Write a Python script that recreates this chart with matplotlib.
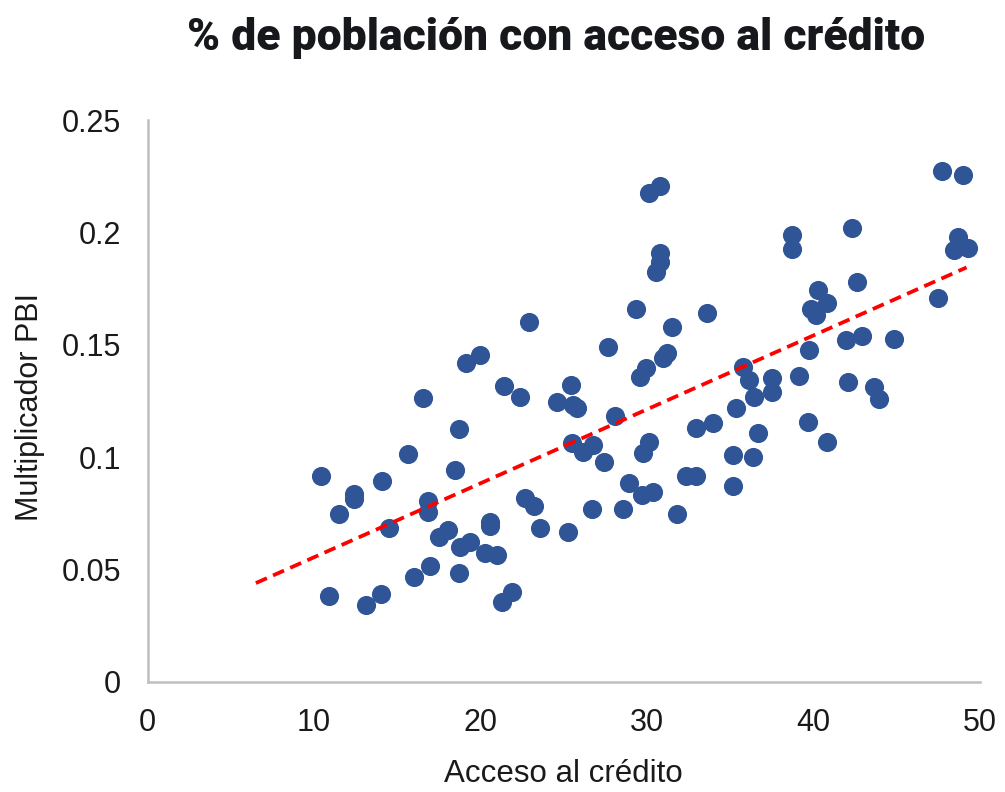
import numpy as np
import matplotlib
matplotlib.use("Agg")
import matplotlib.pyplot as plt

acceso = [
    10.41, 10.89, 11.49, 12.39, 12.39, 13.12, 14.02, 14.08, 14.50, 15.64,
    16.00, 16.55, 16.85, 16.85, 16.97, 17.51, 18.05, 18.47, 18.71, 18.71,
    18.77, 19.13, 19.37, 19.98, 20.28, 20.58, 20.58, 21.00, 21.30, 21.42,
    21.90, 22.38, 22.68, 22.92, 23.23, 23.59, 24.61, 25.27, 25.45, 25.57,
    25.81, 25.51, 26.17, 26.77, 26.71, 27.44, 27.68, 28.10, 28.58, 28.94,
    29.36, 29.60, 29.72, 29.78, 29.96, 30.14, 30.14, 30.38, 30.51, 30.75,
    30.75, 30.81, 30.99, 31.23, 31.53, 31.83, 32.37, 32.97, 32.97, 33.63,
    33.94, 35.14, 35.14, 35.32, 35.74, 36.10, 36.40, 36.34, 36.64, 37.48,
    37.48, 38.69, 38.69, 39.11, 39.65, 39.71, 39.83, 40.25, 40.13, 40.79,
    40.79, 41.94, 42.06, 42.30, 42.60, 42.90, 43.62, 43.92, 44.83, 47.47,
    47.71, 48.98, 48.68, 48.44, 49.28,
]
multiplicador = [
    0.0916, 0.0383, 0.0747, 0.0836, 0.0814, 0.0343, 0.0391, 0.0894, 0.0685, 0.1014,
    0.0467, 0.1263, 0.0805, 0.0756, 0.0516, 0.0645, 0.0676, 0.0943, 0.1125, 0.0485,
    0.0601, 0.1419, 0.0623, 0.1455, 0.0574, 0.0712, 0.0694, 0.0565, 0.0356, 0.1317,
    0.0400, 0.1268, 0.0819, 0.1601, 0.0783, 0.0685, 0.1246, 0.0667, 0.1321, 0.1232,
    0.1219, 0.1063, 0.1023, 0.1054, 0.0770, 0.0979, 0.1490, 0.1183, 0.0770, 0.0885,
    0.1659, 0.1357, 0.0832, 0.1019, 0.1397, 0.2175, 0.1068, 0.0845, 0.1824, 0.2206,
    0.1908, 0.1868, 0.1441, 0.1464, 0.1579, 0.0747, 0.0916, 0.1130, 0.0916, 0.1641,
    0.1152, 0.0872, 0.1010, 0.1219, 0.1401, 0.1343, 0.1268, 0.1001, 0.1108, 0.1352,
    0.1290, 0.1988, 0.1926, 0.1361, 0.1157, 0.1477, 0.1659, 0.1744, 0.1633, 0.1686,
    0.1068, 0.1521, 0.1335, 0.2020, 0.1779, 0.1539, 0.1312, 0.1259, 0.1526, 0.1708,
    0.2273, 0.2255, 0.1980, 0.1922, 0.1931,
]
trend_x = [6.5, 49.2]

x_ticks = [0, 10, 20, 30, 40, 50]
y_ticks = [0, 0.05, 0.1, 0.15, 0.2, 0.25]
y_labels = ["0", "0.05", "0.1", "0.15", "0.2", "0.25"]

fig = plt.figure(figsize=(10.05, 7.92), dpi=100)
ax = fig.add_axes([0.147, 0.139, 0.828, 0.709])

ax.scatter(acceso, multiplicador, s=190, color="#2F5597", linewidths=0, zorder=2)

# linear trend line
m, b = np.polyfit(acceso, multiplicador, 1)
tx = np.array(trend_x)
ax.plot(tx, m * tx + b, color="#FF0000", linestyle=(0, (3.2, 1.8)), linewidth=2.7, zorder=3)

ax.set_xlim(0, 50)
ax.set_ylim(0, 0.25)
ax.set_xticks(x_ticks)
ax.set_yticks(y_ticks)
ax.set_yticklabels(y_labels)
ax.tick_params(length=0, labelsize=22, pad=19, labelcolor="#1A1A1A")
for lab in ax.get_xticklabels() + ax.get_yticklabels():
    lab.set_family("Liberation Sans")

for side in ["top", "right"]:
    ax.spines[side].set_visible(False)
for side in ["left", "bottom"]:
    ax.spines[side].set_color("#BFBFBF")
    ax.spines[side].set_linewidth(1.8)

ax.set_xlabel("Acceso al crédito", fontsize=22.5, family="Liberation Sans",
              color="#1A1A1A", va="baseline")
ax.xaxis.set_label_coords(0.5, -0.178)
ax.set_ylabel("Multiplicador PBI", fontsize=22, family="Liberation Sans", color="#1A1A1A")
ax.yaxis.set_label_coords(-0.124, 0.49)

fig.text(0.553, 0.937, "% de población con acceso al crédito", ha="center", va="baseline",
         fontsize=32, fontweight="black", family="Roboto", color="#16181C")

fig.savefig("out.png", dpi=100)
